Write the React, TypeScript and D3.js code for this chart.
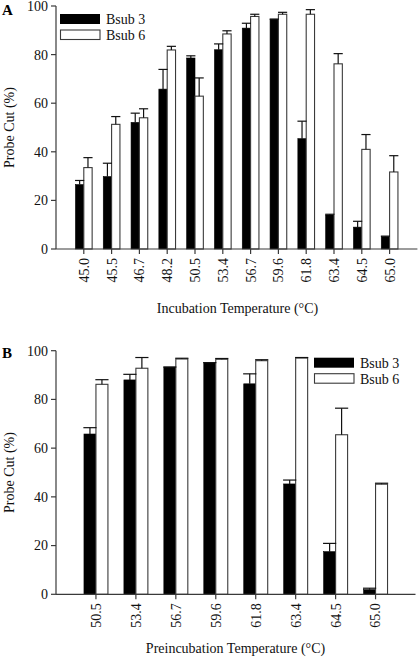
import React from "react";
import * as d3 from "d3";

// ---------- Data ----------
const incubationTemps = ["45.0", "45.5", "46.7", "48.2", "50.5", "53.4", "56.7", "59.6", "61.8", "63.4", "64.5", "65.0"];
const incubBsub3 = [26.5, 29.8, 52.1, 65.8, 78.6, 82.0, 90.9, 94.6, 45.4, 14.0, 9.0, 5.1];
const incubBsub3Err = [28.2, 35.3, 55.9, 73.9, 79.5, 84.4, 92.9, 94.6, 52.6, 14.3, 11.4, 5.3];
const incubBsub6 = [33.5, 51.3, 54.0, 81.9, 62.9, 88.5, 95.7, 96.6, 96.6, 76.2, 41.0, 31.7];
const incubBsub6Err = [37.6, 54.5, 57.7, 83.4, 70.4, 89.8, 96.6, 97.4, 98.5, 80.4, 47.1, 38.4];

const preincTemps = ["50.5", "53.4", "56.7", "59.6", "61.8", "63.4", "64.5", "65.0"];
const preincBsub3 = [65.8, 88.0, 93.3, 95.1, 86.4, 45.3, 17.5, 1.9];
const preincBsub3Err = [68.4, 90.3, 93.3, 95.1, 90.5, 46.9, 20.9, 2.5];
const preincBsub6 = [86.2, 92.8, 96.6, 96.5, 95.9, 97.0, 65.5, 45.2];
const preincBsub6Err = [88.1, 97.2, 96.9, 96.8, 96.3, 97.2, 76.4, 45.6];

const yTicks = [0, 20, 40, 60, 80, 100];
const seriesNames = ["Bsub 3", "Bsub 6"];

const FONT = "'Liberation Serif', 'Times New Roman', serif";

type PanelProps = {
  letter: string;
  cats: string[];
  s3: number[];
  s3e: number[];
  s6: number[];
  s6e: number[];
  xLabel: string;
  y0: number;
  y100: number;
  xEnd: number;
  legendX: number;
  legendY: number;
  letterY: number;
  xLabelY: number;
  xLabelX: number;
};

function Panel(p: PanelProps) {
  const x0 = 56;
  const n = p.cats.length;
  const x = d3.scaleLinear().domain([0, n + 1]).range([x0, p.xEnd]);
  const y = d3.scaleLinear().domain([0, 100]).range([p.y0, p.y100]);
  const step = x(1) - x(0);
  const bw = step * 0.3;
  const cap = bw * 1.1;
  const stroke = "#3a3a3a";

  const errBar = (cx: number, v: number, e: number, key: string) => (
    <g key={key}>
      <line x1={cx} x2={cx} y1={y(v)} y2={y(e)} stroke="#111" strokeWidth={1.2} />
      <line x1={cx - cap / 2} x2={cx + cap / 2} y1={y(e)} y2={y(e)} stroke="#111" strokeWidth={1.2} />
    </g>
  );

  return (
    <g>
      <text x={2} y={p.letterY} fontFamily={FONT} fontWeight="bold" fontSize={15}>{p.letter}</text>
      {p.cats.map((c, i) => {
        const cx = x(i + 1);
        return (
          <g key={c}>
            <rect x={cx - bw} y={y(p.s3[i])} width={bw} height={y(0) - y(p.s3[i])} fill="#000" stroke="#000" strokeWidth={0.6} />
            <rect x={cx} y={y(p.s6[i])} width={bw} height={y(0) - y(p.s6[i])} fill="#fff" stroke={stroke} strokeWidth={1.1} />
            {errBar(cx - bw / 2, p.s3[i], p.s3e[i], "e3")}
            {errBar(cx + bw / 2, p.s6[i], p.s6e[i], "e6")}
          </g>
        );
      })}
      <line x1={x0} x2={x0} y1={y(100)} y2={y(0)} stroke={stroke} strokeWidth={1.2} />
      {yTicks.map((t) => (
        <g key={t}>
          <line x1={x0 - 5} x2={x0} y1={y(t)} y2={y(t)} stroke={stroke} strokeWidth={1.2} />
          <text x={x0 - 8} y={y(t)} dy="0.35em" textAnchor="end" fontFamily={FONT} fontSize={14} fill="#111">{t}</text>
        </g>
      ))}
      <line x1={x0} x2={p.xEnd} y1={y(0)} y2={y(0)} stroke={stroke} strokeWidth={1.2} />
      {p.cats.map((c, i) => {
        const cx = x(i + 1);
        return (
          <g key={"t" + c}>
            <line x1={cx} x2={cx} y1={y(0)} y2={y(0) + 5} stroke={stroke} strokeWidth={1.2} />
            <text transform={`translate(${cx},${y(0) + 9}) rotate(-90)`} dy="0.35em" textAnchor="end" fontFamily={FONT} fontSize={14} fill="#111">{c}</text>
          </g>
        );
      })}
      <text x={p.xLabelX} y={p.xLabelY} textAnchor="middle" fontFamily={FONT} fontSize={14} fill="#111">{p.xLabel}</text>
      <text transform={`translate(13.5,${(y(0) + y(100)) / 2}) rotate(-90)`} textAnchor="middle" fontFamily={FONT} fontSize={14} fill="#111">Probe Cut (%)</text>
      <rect x={p.legendX} y={p.legendY} width={40} height={10} fill="#000" />
      <rect x={p.legendX + 0.5} y={p.legendY + 16} width={39.5} height={9.5} fill="#fff" stroke={stroke} strokeWidth={1.1} />
      <text x={p.legendX + 46} y={p.legendY + 10} fontFamily={FONT} fontSize={14} fill="#111">{seriesNames[0]}</text>
      <text x={p.legendX + 46} y={p.legendY + 26} fontFamily={FONT} fontSize={14} fill="#111">{seriesNames[1]}</text>
    </g>
  );
}

export default function App() {
  return (
    <svg width={418} height={657} style={{ position: "absolute", left: 0, top: 0, background: "#fff" }}>
      <rect x={0} y={0} width={418} height={657} fill="#fff" />
      <Panel
        letter="A"
        cats={incubationTemps}
        s3={incubBsub3}
        s3e={incubBsub3Err}
        s6={incubBsub6}
        s6e={incubBsub6Err}
        xLabel="Incubation Temperature (°C)"
        y0={249}
        y100={6}
        xEnd={417.4}
        legendX={60}
        legendY={14}
        letterY={15}
        xLabelY={312.5}
        xLabelX={237.5}
      />
      <Panel
        letter="B"
        cats={preincTemps}
        s3={preincBsub3}
        s3e={preincBsub3Err}
        s6={preincBsub6}
        s6e={preincBsub6Err}
        xLabel="Preincubation Temperature (°C)"
        y0={594.3}
        y100={350.7}
        xEnd={415.5}
        legendX={314}
        legendY={357.7}
        letterY={358}
        xLabelY={653}
        xLabelX={235.5}
      />
    </svg>
  );
}
